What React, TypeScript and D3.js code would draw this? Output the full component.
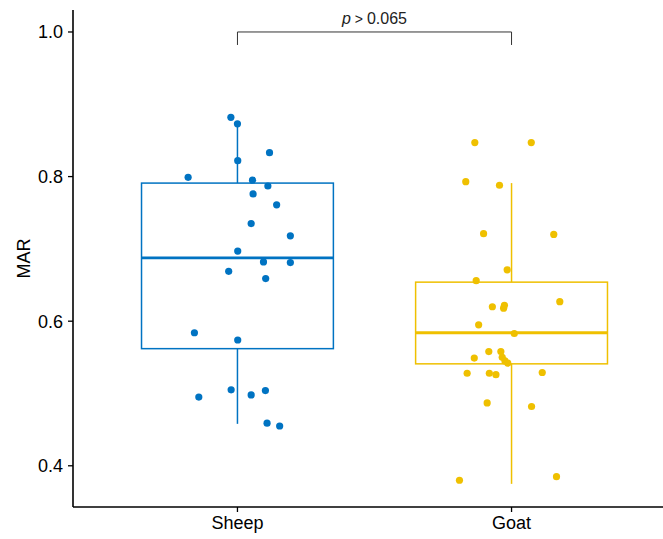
import React from "react";
import * as d3 from "d3";

// groups and colours
const groups = ["Sheep", "Goat"];
const colors = ["#0073C2", "#EFC000"];

// box stats: [whiskerLow, q1, median, q3, whiskerHigh]
const sheepBox = [0.458, 0.562, 0.6875, 0.791, 0.873];
const goatBox = [0.375, 0.541, 0.584, 0.654, 0.791];

// jittered points: value and horizontal jitter (in category units)
const sheepValues = [0.882, 0.873, 0.833, 0.822, 0.799, 0.795, 0.787, 0.776, 0.761, 0.735, 0.718, 0.697,
  0.682, 0.681, 0.669, 0.659, 0.584, 0.574, 0.505, 0.504, 0.495, 0.498, 0.459, 0.455];
const sheepJitter = [-0.024, 0, 0.117, 0.001, -0.18, 0.055, 0.111, 0.057, 0.143, 0.05, 0.193, 0.001,
  0.095, 0.193, -0.032, 0.103, -0.157, 0.001, -0.023, 0.102, -0.141, 0.05, 0.108, 0.154];

const goatValues = [0.847, 0.847, 0.793, 0.788, 0.721, 0.72, 0.671, 0.656, 0.627, 0.62, 0.622, 0.618,
  0.595, 0.583, 0.558, 0.558, 0.549, 0.55, 0.545, 0.542, 0.528, 0.528, 0.526, 0.529, 0.487, 0.482, 0.38, 0.385];
const goatJitter = [-0.134, 0.072, -0.167, -0.044, -0.102, 0.154, -0.016, -0.129, 0.176, -0.07, -0.026, -0.029,
  -0.12, 0.01, -0.083, -0.039, -0.136, -0.034, -0.024, -0.014, -0.162, -0.081, -0.057, 0.112, -0.089, 0.073, -0.19, 0.164];

const yTicks = [0.4, 0.6, 0.8, 1.0];
const pLabel = "0.065";

const width = 663;
const height = 539;
const MARGIN = { top: 10, right: -13, bottom: 32, left: 73 };

const App = () => {
  const boundsWidth = width - MARGIN.left - MARGIN.right;
  const boundsHeight = height - MARGIN.top - MARGIN.bottom;

  const xScale = d3.scaleLinear().domain([0.4, 2.6]).range([0, boundsWidth]);
  const yScale = d3.scaleLinear().domain([0.343, 1.0304]).range([boundsHeight, 0]);

  const boxes = [sheepBox, goatBox];
  const values = [sheepValues, goatValues];
  const jitters = [sheepJitter, goatJitter];
  const boxHalf = 0.35;
  const font = "'Liberation Sans', Arial, sans-serif";

  const bracketY = yScale(1.0);
  const bracketDrop = 13;

  return (
    <svg width={width} height={height} style={{ position: "absolute", left: 0, top: 0 }}>
      <rect width={width} height={height} fill="#fff" />
      <g transform={`translate(${MARGIN.left},${MARGIN.top})`}>
        {groups.map((g, i) => {
          const cx = xScale(i + 1);
          const [lo, q1, med, q3, hi] = boxes[i];
          const x0 = xScale(i + 1 - boxHalf);
          const x1 = xScale(i + 1 + boxHalf);
          return (
            <g key={g}>
              <line x1={cx} x2={cx} y1={yScale(hi)} y2={yScale(q3)} stroke={colors[i]} strokeWidth={1.5} />
              <line x1={cx} x2={cx} y1={yScale(q1)} y2={yScale(lo)} stroke={colors[i]} strokeWidth={1.5} />
              <rect x={x0} width={x1 - x0} y={yScale(q3)} height={yScale(q1) - yScale(q3)}
                fill="none" stroke={colors[i]} strokeWidth={1.5} />
              <line x1={x0} x2={x1} y1={yScale(med)} y2={yScale(med)} stroke={colors[i]} strokeWidth={2.8} />
              {values[i].map((v, j) => (
                <circle key={j} cx={xScale(i + 1 + jitters[i][j])} cy={yScale(v)} r={3.6} fill={colors[i]} />
              ))}
            </g>
          );
        })}

        {/* significance bracket */}
        <path
          d={`M${xScale(1)},${bracketY + bracketDrop}V${bracketY}H${xScale(2)}V${bracketY + bracketDrop}`}
          fill="none" stroke="#333" strokeWidth={1}
        />
        <text x={(xScale(1) + xScale(2)) / 2} y={bracketY - 8} textAnchor="middle"
          fontFamily={font} fontSize={16} fill="#222">
          <tspan fontStyle="italic">p</tspan>
          <tspan fontSize={14}>{" > "}</tspan>
          <tspan>{pLabel}</tspan>
        </text>

        {/* axes */}
        <line x1={0} x2={0} y1={0} y2={boundsHeight} stroke="#000" strokeWidth={1.6} />
        <line x1={0} x2={width} y1={boundsHeight} y2={boundsHeight} stroke="#000" strokeWidth={1.6} />
        {yTicks.map((t) => (
          <g key={t} transform={`translate(0,${yScale(t)})`}>
            <line x1={-5} x2={0} stroke="#000" strokeWidth={1.3} />
            <text x={-10} dy="0.36em" textAnchor="end" fontFamily={font} fontSize={18} fill="#000">
              {t.toFixed(1)}
            </text>
          </g>
        ))}
        {groups.map((g, i) => (
          <g key={g} transform={`translate(${xScale(i + 1)},${boundsHeight})`}>
            <line y1={0} y2={5} stroke="#000" strokeWidth={1.3} />
            <text y={22} textAnchor="middle" fontFamily={font} fontSize={18} fill="#000">{g}</text>
          </g>
        ))}
        <text transform={`translate(-43,${boundsHeight / 2}) rotate(-90)`} textAnchor="middle"
          fontFamily={font} fontSize={18} fill="#000">MAR</text>
      </g>
    </svg>
  );
};

export default App;
